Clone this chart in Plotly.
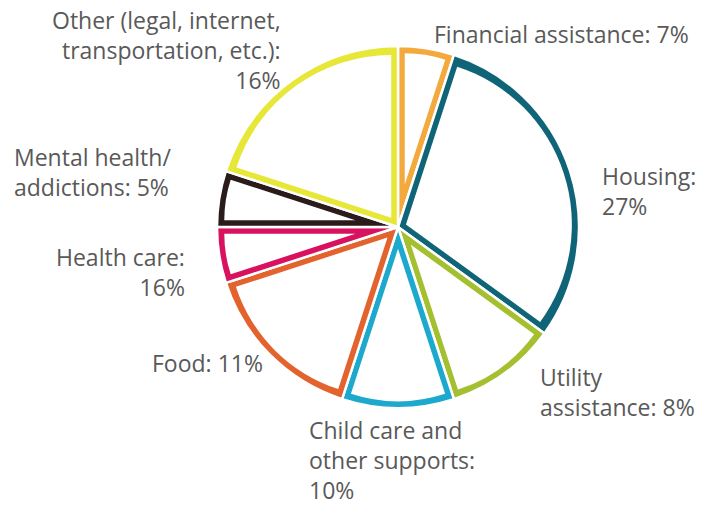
import math
import plotly.graph_objects as go

# ---- data ----
categories = [
    "Financial assistance",
    "Housing",
    "Utility assistance",
    "Child care and other supports",
    "Food",
    "Health care",
    "Mental health/addictions",
    "Other (legal, internet, transportation, etc.)",
]
slice_values = [5, 30, 10, 10, 15, 5, 5, 20]
label_lines = [
    ["Financial assistance: 7%"],
    ["Housing:", "27%"],
    ["Utility", "assistance: 8%"],
    ["Child care and", "other supports:", "10%"],
    ["Food: 11%"],
    ["Health care:", "16%"],
    ["Mental health/", "addictions: 5%"],
    ["Other (legal, internet,", "transportation, etc.):", "16%"],
]
colors = ["#F3A93C", "#0F6577", "#A4BF2F", "#1DA9CD",
          "#E3632F", "#D8125F", "#2B1B1B", "#E6E736"]

# ---- layout constants (pixels) ----
W, H = 727, 505
CX, CY, R = 398, 227, 181
GAP, BORDER = 2.5, 5.5
FONT = 23
LINE = 1.3 * FONT

# label anchor: (x px, first-line centre y px, xanchor)
label_pos = [
    (432, 34, "left"),
    (600, 176, "left"),
    (538, 377, "left"),
    (307, 430, "left"),
    (265, 363, "right"),
    (187, 257, "right"),
    (12, 157, "left"),
    (283, 20, "right"),
]


def dom(half):
    return dict(x=[(CX - half) / W, (CX + half) / W],
                y=[1 - (CY + half) / H, 1 - (CY - half) / H])


fig = go.Figure()

# coloured base pie with white gaps
fig.add_trace(go.Pie(
    labels=categories, values=slice_values, sort=False,
    direction="clockwise", rotation=0,
    marker=dict(colors=colors, line=dict(color="white", width=GAP)),
    textinfo="none", hoverinfo="label+value", domain=dom(R),
    showlegend=False,
))

# white inset interiors, one trace per slice
total = sum(slice_values)
d = GAP / 2 + BORDER
for i, v in enumerate(slice_values):
    theta = 2 * math.pi * v / total
    t = d / math.sin(theta / 2)
    r_i = R - d - t
    pull = [0] * len(slice_values)
    pull[i] = t / r_i
    cols = ["rgba(0,0,0,0)"] * len(slice_values)
    cols[i] = "white"
    fig.add_trace(go.Pie(
        labels=categories, values=slice_values, sort=False,
        direction="clockwise", rotation=0, pull=pull,
        marker=dict(colors=cols, line=dict(width=0)),
        textinfo="none", hoverinfo="skip", domain=dom(R - d),
        showlegend=False,
    ))

for lines, (x, y0, xa) in zip(label_lines, label_pos):
    yc = y0 + (len(lines) - 1) * LINE / 2
    fig.add_annotation(
        text="<br>".join(lines), x=x / W, y=1 - yc / H,
        xref="paper", yref="paper",
        xanchor=xa, yanchor="middle", align=xa, showarrow=False,
        font=dict(family="Open Sans", size=FONT, color="#595959"),
    )

fig.update_layout(
    width=W, height=H, margin=dict(l=0, r=0, t=0, b=0),
    paper_bgcolor="white", plot_bgcolor="white", showlegend=False,
)

fig.write_html(
    "out.html",
    config={"displayModeBar": False},
    post_script="document.body.style.margin='0px';"
                "document.body.style.overflow='hidden';",
)
